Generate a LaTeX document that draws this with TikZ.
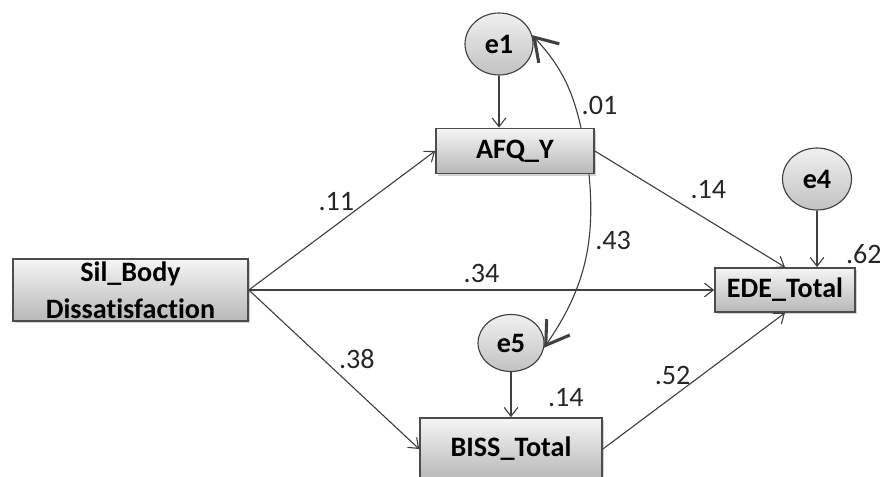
\documentclass[tikz,border=0pt]{standalone}
\usepackage{fontspec}
\setmainfont{Carlito}[Ligatures=CommonOff]
\usetikzlibrary{shapes,arrows.meta,calc,shadows}
\tikzstyle{block} = [rectangle, draw=black!70, line width=1.2pt, top color=black!4, bottom color=black!28,
    drop shadow={shadow xshift=0.6mm, shadow yshift=-0.6mm, fill=black!35},
    font=\fontsize{20}{26}\selectfont\bfseries, text centered, inner sep=0pt]
\tikzstyle{resid} = [ellipse, draw=black!75, line width=0.8pt, top color=black!6, bottom color=black!24,
    font=\fontsize{20}{24}\selectfont\bfseries, inner sep=0pt]
\tikzstyle{line} = [draw=black!75, line width=0.8pt, -{Straight Barb[length=2.2mm,width=3.4mm]}]
\tikzstyle{corr} = [draw=black!75, line width=0.8pt, -{Straight Barb[length=5.5mm,width=7mm,line width=2.2pt]}]
\tikzstyle{coef} = [font=\fontsize{20}{24}\selectfont, inner sep=0pt, text=black!85]

\begin{document}
\begin{tikzpicture}[node distance = 2cm]
    \useasboundingbox (0,0) rectangle (22,-11.925);
    % Place nodes
    \node [block, minimum width=5.875cm, minimum height=1.55cm, align=center] (sil) at (3.2625,-7.25) {Sil\_Body\\Dissatisfaction};
    \node [block, minimum width=3.95cm, minimum height=1.125cm] (afq) at (12.875,-3.775) {AFQ\_Y};
    \node [block, minimum width=4.55cm, minimum height=1.55cm] (biss) at (12.775,-11.225) {BISS\_Total};
    \node [block, right of=sil, node distance=16.3625cm, minimum width=3.5cm, minimum height=1.1cm] (ede) {EDE\_Total};
    \node [resid, minimum width=1.7cm, minimum height=1.55cm] (e1) at (12.475,-1.1) {e1};
    \node [resid, above of=biss, node distance=2.65cm, minimum width=1.65cm, minimum height=1.425cm] (e5) {e5};
    \node [resid, minimum width=1.725cm, minimum height=1.55cm] (e4) at (20.425,-4.475) {e4};
    % Draw edges
    \path [line] (e1) -- (e1 |- afq.north);
    \path [line] (e5) -- (e5 |- biss.north);
    \path [line] (e4) -- (e4 |- ede.north);
    \path [line] (sil.east) -- node [coef, pos=0.47, yshift=0.57cm] {.11} (afq.west);
    \path [line] (sil.east) -- node [coef, pos=0.5, yshift=0.425cm] {.34} (ede.west);
    \path [line] (sil.east) -- node [coef, pos=0.634, yshift=0.8cm] {.38} (biss.west);
    \path [line] (afq.east) -- node [coef, pos=0.597, yshift=0.77cm] {.14} (ede.north);
    \path [line] (biss.east) -- node [coef, pos=0.383, yshift=0.54cm] {.52} (ede.south);
    \path [corr] ([xshift=1.65cm]afq.north) to [bend right=15] node [coef, pos=0.2, right=0.15cm] {.01} (e1.15);
    \path [corr] ([xshift=1.85cm]afq.south) to [bend left=20] node [coef, pos=0.35, right=0.15cm] {.43} (e5.-8);
    % Squared multiple correlations
    \node [coef] at ([xshift=0.2cm, yshift=0.325cm]ede.north east) {.62};
    \node [coef] at ([xshift=-0.925cm, yshift=0.5cm]biss.north east) {.14};
\end{tikzpicture}
\end{document}
